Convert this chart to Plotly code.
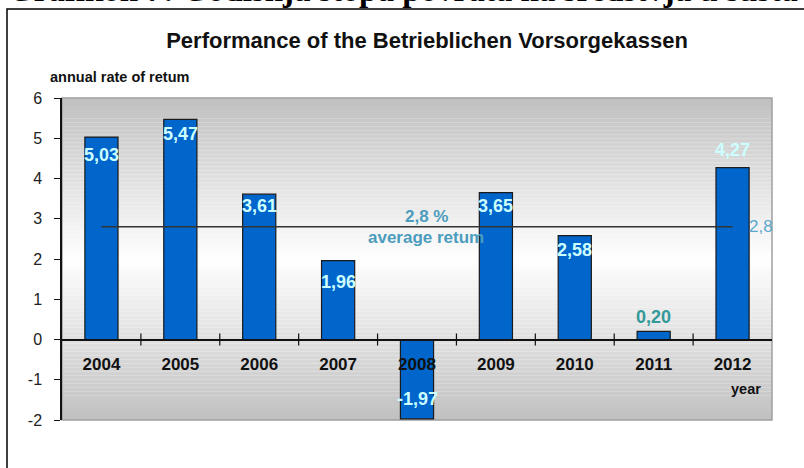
import plotly.graph_objects as go

years = ["2004", "2005", "2006", "2007", "2008", "2009", "2010", "2011", "2012"]
returns = [5.03, 5.47, 3.61, 1.96, -1.97, 3.65, 2.58, 0.20, 4.27]
labels = ["5,03", "5,47", "3,61", "1,96", "-1,97", "3,65", "2,58", "0,20", "4,27"]
average = 2.8
avg_label = "2,8"
y_ticks = [-2, -1, 0, 1, 2, 3, 4, 5, 6]

# label offsets in pixels (style only)
label_shift = [-18, -15, -12, -21, 20, -13, -14, 14, 18]
label_color = ["#ccffff"] * 7 + ["#339999", "#ccffff"]

FONT = "Liberation Sans, Arial"
L, R, T, B = 62, 32, 98, 48
PW, PH = 804 - L - R, 468 - T - B


def px(x):
    return (x - L) / PW


def py(y):
    return (468 - B - y) / PH


fig = go.Figure()

# gradient background bands (gray - white - gray, centred on plot middle)
ymin, ymax = -2, 6
n = 80
mid = (ymin + ymax) / 2
half = (ymax - ymin) / 2
for i in range(n):
    y0 = ymin + (ymax - ymin) * i / n
    y1 = ymin + (ymax - ymin) * (i + 1) / n
    yc = (y0 + y1) / 2
    t = abs(yc - mid) / half
    v = int(round(255 - (255 - 192) * t))
    fig.add_shape(type="rect", xref="x domain", yref="y", x0=0, x1=1, y0=y0, y1=y1,
                  fillcolor=f"rgb({v},{v},{v})", line_width=0, layer="below")

fig.add_trace(go.Bar(
    x=years, y=returns, width=0.42,
    marker=dict(color="#0066cc", line=dict(color="#1a1a1a", width=1.2)),
    hoverinfo="skip", showlegend=False,
))

fig.add_trace(go.Scatter(
    x=years, y=[average] * len(years), mode="lines",
    line=dict(color="#333333", width=1.5), hoverinfo="skip", showlegend=False,
))

for i, (v, lab, sh, col) in enumerate(zip(returns, labels, label_shift, label_color)):
    fig.add_annotation(x=i, y=v, text=f"<b>{lab}</b>", showarrow=False, yshift=sh,
                       font=dict(family=FONT, size=18, color=col))

# category boundary tick marks crossing the axis
for i in range(len(years) - 1):
    fig.add_shape(type="line", xref="x", yref="y", x0=i + 0.5, x1=i + 0.5,
                  ysizemode="pixel", yanchor=0, y0=-6, y1=6,
                  line=dict(color="#111111", width=1.2))

# plot area border (gray)
fig.add_shape(type="rect", xref="paper", yref="paper", x0=0, x1=1, y0=0, y1=1,
              line=dict(color="#a0a0a0", width=1.5), layer="below")

# average annotations
fig.add_annotation(xref="x", yref="y", x=4.12, y=average, yshift=10,
                   text="<b>2,8 %</b>", showarrow=False,
                   font=dict(family=FONT, size=17, color="#4b9cbd"))
fig.add_annotation(xref="x", yref="y", x=4.12, y=average, yshift=-11,
                   text="<b>average retum</b>", showarrow=False,
                   font=dict(family=FONT, size=17, color="#4b9cbd"))
fig.add_annotation(xref="paper", yref="y", x=px(747), y=average, xanchor="left",
                   text=avg_label, showarrow=False,
                   font=dict(family=FONT, size=17, color="#5aa8cc"))

# axis captions
fig.add_annotation(xref="paper", yref="paper", x=px(48), y=py(77),
                   xanchor="left", yanchor="middle", showarrow=False,
                   text="<b>annual rate of retum</b>",
                   font=dict(family=FONT, size=14.5, color="#111111"))
fig.add_annotation(xref="paper", yref="paper", x=px(763), y=py(389),
                   xanchor="right", yanchor="middle", showarrow=False,
                   text="<b>year</b>",
                   font=dict(family=FONT, size=14.5, color="#111111"))

# outer frame
fig.add_shape(type="rect", xref="paper", yref="paper",
              x0=px(7), x1=px(830), y0=py(500), y1=py(9),
              line=dict(color="#000000", width=1.5), layer="below")

# clipped heading from the page above
fig.add_annotation(xref="paper", yref="paper", x=px(6), y=py(-10),
                   xanchor="left", yanchor="middle", showarrow=False,
                   text="<b>Grafikon 7: Godišnja stopa povrata na sredstvja u sustava</b>",
                   font=dict(family="Liberation Serif, Times New Roman", size=33, color="#000000"))

fig.update_layout(
    width=804, height=468,
    margin=dict(l=L, r=R, t=T, b=B),
    paper_bgcolor="white", plot_bgcolor="white",
    title=dict(text="<b>Performance of the Betrieblichen Vorsorgekassen</b>",
               x=427 / 804, xanchor="center", y=1 - 40 / 468, yanchor="middle",
               font=dict(family=FONT, size=22, color="#111111")),
    xaxis=dict(type="category", anchor="free", position=0.25,
               showline=True, linecolor="#111111", linewidth=1.5,
               ticks="", showgrid=False, zeroline=False,
               ticklabelstandoff=9,
               tickfont=dict(family=FONT, size=17, color="#111111"),
               tickprefix="<b>", ticksuffix="</b>", range=[-0.5, 8.5]),
    yaxis=dict(range=[ymin, ymax], tickvals=y_ticks, ticktext=[str(v) for v in y_ticks],
               showline=True, linecolor="#111111", linewidth=1.5,
               ticks="outside", ticklen=6, tickcolor="#111111", tickwidth=1.2,
               showgrid=False, zeroline=False, ticklabelstandoff=9,
               tickfont=dict(family=FONT, size=16, color="#222222")),
    font=dict(family=FONT),
)

fig.write_html("out.html", post_script="document.body.style.margin='0';",
               config={"displayModeBar": False})
